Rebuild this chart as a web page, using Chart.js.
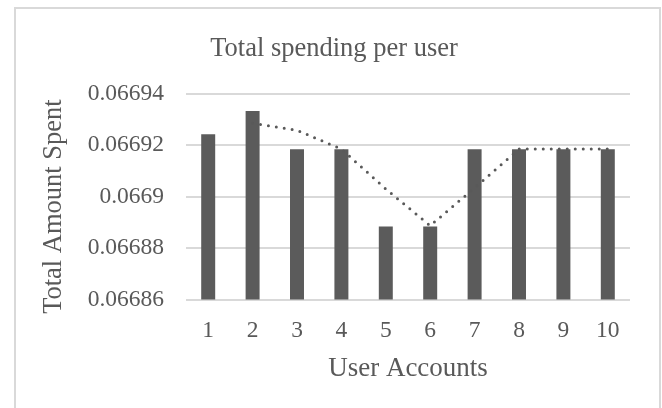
<!DOCTYPE html>
<html>
<head>
<meta charset="utf-8">
<script src="https://cdn.jsdelivr.net/npm/chart.js@4.4.1/dist/chart.umd.min.js"></script>
<style>
    html, body { margin: 0; padding: 0; background: #ffffff; }
    #wrap { position: relative; width: 662px; height: 408px; overflow: hidden; }
    #frame { position: absolute; left: 14px; top: 7px; width: 643px; height: 420px; border: 2px solid #d9d9d9; pointer-events: none; }
</style>
</head>
<body>
<div id="wrap">
    <canvas id="spendChart" width="662" height="408"></canvas>
    <div id="frame"></div>
</div>
<script>
const userAccounts = ["1", "2", "3", "4", "5", "6", "7", "8", "9", "10"];
const amountSpent = [0.0669243, 0.0669333, 0.0669184, 0.0669184, 0.0668884, 0.0668884, 0.0669184, 0.0669184, 0.0669184, 0.0669184];
const movingAverage = [null, 0.0669285, 0.0669258, 0.0669185, 0.0669030, 0.0668887, 0.0669034, 0.0669185, 0.0669185, 0.0669185];
const yTickValues = [0.06686, 0.06688, 0.0669, 0.06692, 0.06694];

const textColor = "#595959";
const serif = "'Liberation Serif', 'Times New Roman', serif";

new Chart(document.getElementById("spendChart"), {
    type: "bar",
    data: {
        labels: userAccounts,
        datasets: [{
            type: "line",
            label: "2 per. Mov. Avg.",
            data: movingAverage,
            borderColor: "#595959",
            borderWidth: 3,
            borderDash: [0, 8],
            borderCapStyle: "round",
            pointRadius: 0,
            tension: 0,
            order: 0
        }, {
            label: "Total Amount Spent",
            data: amountSpent,
            backgroundColor: "#5b5b5b",
            barPercentage: 0.315,
            categoryPercentage: 1,
            order: 1
        }]
    },
    options: {
        responsive: false,
        animation: false,
        layout: {
            padding: { left: 38, right: 32, top: 0, bottom: 26 }
        },
        plugins: {
            legend: { display: false },
            tooltip: { enabled: false },
            title: {
                display: true,
                text: "Total spending per user",
                color: textColor,
                font: { family: serif, size: 26.5, weight: "normal" },
                padding: { top: 33, bottom: 29 }
            }
        },
        scales: {
            x: {
                grid: { display: false },
                border: { display: false },
                ticks: {
                    color: textColor,
                    font: { family: serif, size: 23.5, lineHeight: 1 },
                    padding: 12,
                    maxRotation: 0
                },
                title: {
                    display: true,
                    text: "User Accounts",
                    color: textColor,
                    font: { family: serif, size: 27, lineHeight: 1 },
                    padding: { top: 0, bottom: 0 }
                }
            },
            y: {
                min: 0.06686,
                max: 0.06694,
                afterBuildTicks: (scale) => {
                    scale.ticks = yTickValues.map((value) => ({ value }));
                },
                afterFit: (scale) => {
                    scale.width = 148;
                },
                grid: {
                    color: "#d9d9d9",
                    lineWidth: 2,
                    drawTicks: false
                },
                border: { display: false },
                ticks: {
                    color: textColor,
                    font: { family: serif, size: 23.5 },
                    padding: 22,
                    callback: (value) => String(value)
                },
                title: {
                    display: true,
                    // trailing spaces push the rotated text a little lower, like the original
                    text: "Total Amount Spent   ",
                    color: textColor,
                    font: { family: serif, size: 26.5 },
                    padding: 0
                }
            }
        }
    }
});
</script>
</body>
</html>
